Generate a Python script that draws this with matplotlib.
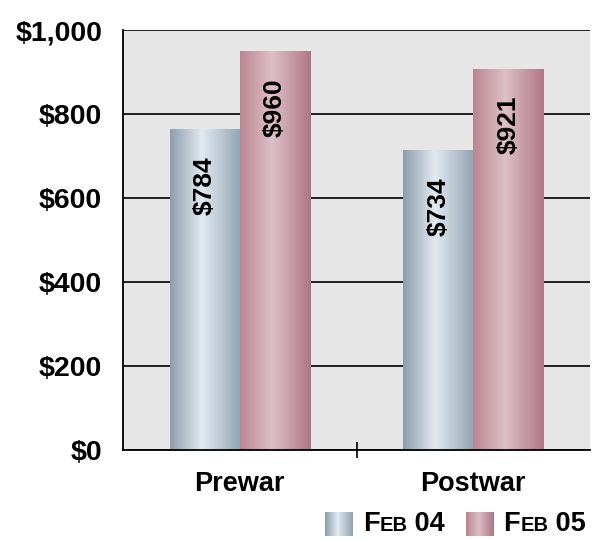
import numpy as np
import matplotlib
matplotlib.use("Agg")
import matplotlib.pyplot as plt
from matplotlib.colors import LinearSegmentedColormap
from matplotlib.offsetbox import TextArea, HPacker, OffsetImage, AnchoredOffsetbox

plt.rcParams['font.family'] = ['Liberation Sans', 'DejaVu Sans']
plt.rcParams['font.weight'] = 'bold'

categories = ['Prewar', 'Postwar']
# bar heights as drawn, and the value labels printed on them
feb04_heights = [762, 712]
feb05_heights = [948, 907]
feb04_labels = ['$784', '$734']
feb05_labels = ['$960', '$921']
yticks = [0, 200, 400, 600, 800, 1000]
ytick_labels = ['$0', '$200', '$400', '$600', '$800', '$1,000']

blue = LinearSegmentedColormap.from_list('b', [(0, '#8d9eac'), (0.45, '#e2eaf2'), (1, '#93a3b1')])
pink = LinearSegmentedColormap.from_list('p', [(0, '#bb8591'), (0.45, '#ddc0c8'), (1, '#b07686')])
grad = np.linspace(0, 1, 200).reshape(1, -1)

fig = plt.figure(figsize=(5.96, 5.40), dpi=100)
ax = fig.add_axes([0.2064, 0.1667, 0.7836, 0.7777])
ax.set_facecolor('#e6e6e6')

x = np.arange(len(categories))
w = 0.3
for heights, labels, cmap, off in [(feb04_heights, feb04_labels, blue, -w / 2),
                                   (feb05_heights, feb05_labels, pink, w / 2)]:
    bars = ax.bar(x + off, heights, w, color='none', zorder=2)
    for b, lab in zip(bars, labels):
        x0, h = b.get_x(), b.get_height()
        ax.imshow(grad, cmap=cmap, extent=(x0, x0 + w, 0, h), aspect='auto', zorder=2)
        ax.annotate(lab, (x0 + w / 2, h), xytext=(0, -19), textcoords='offset points',
                    rotation=90, ha='center', va='top', fontsize=19, fontweight='bold',
                    zorder=3)
ax.set_aspect('auto')
ax.set_xlim(-0.5, 1.5)
ax.set_ylim(0, 1000)

ax.set_yticks(yticks)
ax.set_yticklabels(ytick_labels, fontsize=20.5, fontweight='bold')
ax.tick_params(axis='y', length=0, pad=15)
ax.set_xticks(x)
ax.set_xticklabels(categories, fontsize=19.5, fontweight='bold')
ax.tick_params(axis='x', which='major', length=0, pad=15)
ax.set_xticks([0.5], minor=True)
ax.tick_params(axis='x', which='minor', direction='inout', length=12, width=1.2, color='black')
ax.grid(axis='y', color='black', linewidth=1.2, zorder=1)
ax.set_axisbelow(True)
for s in ['top', 'right']:
    ax.spines[s].set_visible(False)
for s in ['left', 'bottom']:
    ax.spines[s].set_color('black')
    ax.spines[s].set_linewidth(1.3)
    ax.spines[s].set_zorder(4)


def legend_item(cmap, rest):
    arr = np.tile(np.linspace(0, 1, 28).reshape(1, -1), (24, 1))
    img = OffsetImage(arr, cmap=cmap, zoom=0.72)
    t1 = TextArea('F', textprops=dict(fontsize=19.5, fontweight='bold'))
    t2 = TextArea('EB', textprops=dict(fontsize=14.5, fontweight='bold'))
    t3 = TextArea(' ' + rest, textprops=dict(fontsize=19.5, fontweight='bold'))
    txt = HPacker(children=[t1, t2, t3], align='baseline', pad=0, sep=0)
    return HPacker(children=[img, txt], align='center', pad=0, sep=7)


items = HPacker(children=[legend_item(blue, '04'), legend_item(pink, '05')],
                align='center', pad=0, sep=15)
box = AnchoredOffsetbox(loc='center right', child=items, frameon=False,
                        bbox_to_anchor=(586 / 596, 1 - 524 / 540),
                        bbox_transform=fig.transFigure, borderpad=0, pad=0)
fig.add_artist(box)

fig.savefig('out.png', dpi=100)
